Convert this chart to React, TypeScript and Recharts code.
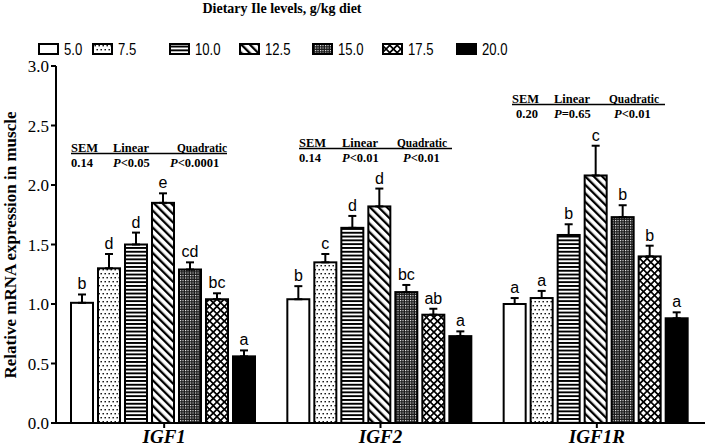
import React from 'react'
import { Bar, BarChart, ErrorBar, XAxis, YAxis } from 'recharts'

const genes = ['IGF1', 'IGF2', 'IGF1R']
const levels = ['5.0', '7.5', '10.0', '12.5', '15.0', '17.5', '20.0']

const igf1Means = [1.01, 1.3, 1.5, 1.85, 1.29, 1.04, 0.56]
const igf1Sem = [0.07, 0.12, 0.1, 0.08, 0.06, 0.05, 0.05]
const igf1Letters = ['b', 'd', 'd', 'e', 'cd', 'bc', 'a']

const igf2Means = [1.04, 1.35, 1.64, 1.82, 1.1, 0.91, 0.73]
const igf2Sem = [0.11, 0.07, 0.1, 0.15, 0.06, 0.05, 0.04]
const igf2Letters = ['b', 'c', 'd', 'd', 'bc', 'ab', 'a']

const igf1rMeans = [1.0, 1.05, 1.58, 2.08, 1.73, 1.4, 0.88]
const igf1rSem = [0.05, 0.06, 0.09, 0.25, 0.1, 0.09, 0.05]
const igf1rLetters = ['a', 'a', 'b', 'c', 'b', 'b', 'a']

const semValues = ['0.14', '0.14', '0.20']
const linearP = ['<0.05', '<0.01', '=0.65']
const quadraticP = ['<0.0001', '<0.01', '<0.01']

const yTicks = [0, 0.5, 1, 1.5, 2, 2.5, 3]

const meansByGene = [igf1Means, igf2Means, igf1rMeans]
const semByGene = [igf1Sem, igf2Sem, igf1rSem]
const lettersByGene = [igf1Letters, igf2Letters, igf1rLetters]

const rows = genes.map((gene, g) => {
  const row: Record<string, any> = { gene }
  levels.forEach((_, i) => {
    row[`v${i}`] = meansByGene[g][i]
    row[`e${i}`] = [0, semByGene[g][i]]
    row[`l${i}`] = lettersByGene[g][i]
  })
  return row
})

const serif = "'Liberation Serif', 'Times New Roman', serif"
const sans = "'Liberation Sans', Arial, sans-serif"

const fills = ['#fff', 'url(#pDots)', 'url(#pHoriz)', 'url(#pDiag)', 'url(#pDense)', 'url(#pCross)', '#000']

// layout of the overlay bits (legend + SEM boxes)
const legendX = [39, 93, 170, 240, 313, 383, 457]
const semLayout = [
  { head: [71, 113, 177], row: [71, 113, 170], y: 152, x2: 227 },
  { head: [299, 342, 397], row: [299, 342, 403], y: 147, x2: 452 },
  { head: [512, 554, 609], row: [516, 554, 614], y: 103, x2: 665 },
]

const makeShape = (i: number) => (props: any) => {
  const { x, y, width, height, payload } = props
  const v = payload[`v${i}`]
  const pxPerUnit = v ? height / v : 0
  const top = y - payload[`e${i}`][1] * pxPerUnit
  return (
    <g>
      <rect x={x} y={y} width={width} height={height} fill={fills[i]} stroke="#000" strokeWidth={2} />
      <text x={x + width / 2} y={top - 5} textAnchor="middle" fontSize={16} fontFamily={sans} fill="#000">
        {payload[`l${i}`]}
      </text>
    </g>
  )
}

const Patterns = () => (
  <defs>
    <pattern id="pDots" patternUnits="userSpaceOnUse" width={4} height={8}>
      <rect width={4} height={8} fill="#fff" />
      <rect x={0.5} y={1} width={1.4} height={1.4} fill="#000" />
      <rect x={2.5} y={5} width={1.4} height={1.4} fill="#000" />
    </pattern>
    <pattern id="pHoriz" patternUnits="userSpaceOnUse" width={4} height={3.8}>
      <rect width={4} height={3.8} fill="#fff" />
      <rect y={0} width={4} height={1.9} fill="#000" />
    </pattern>
    <pattern id="pDiag" patternUnits="userSpaceOnUse" width={6} height={6} patternTransform="rotate(-45)">
      <rect width={6} height={6} fill="#fff" />
      <rect width={2.3} height={6} fill="#000" />
    </pattern>
    <pattern id="pDense" patternUnits="userSpaceOnUse" width={2.5} height={2.5}>
      <rect width={2.5} height={2.5} fill="#1a1a1a" />
      <rect width={1.1} height={1.1} fill="#fff" />
    </pattern>
    <pattern id="pCross" patternUnits="userSpaceOnUse" width={5.2} height={5.2} patternTransform="rotate(45)">
      <rect width={5.2} height={5.2} fill="#fff" />
      <rect width={5.2} height={1.7} fill="#000" />
      <rect width={1.7} height={5.2} fill="#000" />
    </pattern>
  </defs>
)

const Overlay = () => (
  <svg width={706} height={447} style={{ position: 'absolute', left: 0, top: 0, pointerEvents: 'none' }}>
    <Patterns />
    <text x={282} y={13} textAnchor="middle" fontFamily={serif} fontWeight="bold" fontSize={14} fill="#000">
      Dietary Ile levels, g/kg diet
    </text>
    {levels.map((lv, i) => (
      <g key={lv}>
        <rect x={legendX[i]} y={44} width={19} height={10} fill={fills[i]} stroke="#000" strokeWidth={2} />
        <text
          x={0}
          y={0}
          transform={`translate(${legendX[i] + 25},55) scale(0.82,1)`}
          fontFamily={sans}
          fontSize={16}
          fill="#000"
        >
          {lv}
        </text>
      </g>
    ))}
    <text
      transform="translate(16,245) rotate(-90)"
      textAnchor="middle"
      fontFamily={serif}
      fontWeight="bold"
      fontSize={17}
      fill="#000"
    >
      Relative mRNA expression in muscle
    </text>
    {semLayout.map((s, g) => (
      <g key={g} fontFamily={serif} fontWeight="bold" fontSize={12.5} fill="#000">
        <text x={s.head[0]} y={s.y}>SEM</text>
        <text x={s.head[1]} y={s.y}>Linear</text>
        <text x={s.head[2]} y={s.y} textLength={50} lengthAdjust="spacingAndGlyphs">Quadratic</text>
        <line x1={s.head[0]} x2={s.x2} y1={s.y + 1.5} y2={s.y + 1.5} stroke="#000" strokeWidth={1.3} />
        <text x={s.row[0]} y={s.y + 15}>{semValues[g]}</text>
        <text x={s.row[1]} y={s.y + 15}>
          <tspan fontStyle="italic">P</tspan>
          {linearP[g]}
        </text>
        <text x={s.row[2]} y={s.y + 15}>
          <tspan fontStyle="italic">P</tspan>
          {quadraticP[g]}
        </text>
      </g>
    ))}
  </svg>
)

export default function App() {
  return (
    <div style={{ position: 'absolute', left: 0, top: 0, width: 706, height: 447, background: '#fff' }}>
      <BarChart
        width={706}
        height={447}
        data={rows}
        margin={{ top: 66, right: 1, left: 0, bottom: 0 }}
        barCategoryGap={15}
        barGap={5}
      >
        <XAxis
          dataKey="gene"
          height={24}
          axisLine={{ stroke: '#000', strokeWidth: 2 }}
          tickLine={{ stroke: '#000', strokeWidth: 2 }}
          tickSize={5}
          tick={{ fill: '#000', fontSize: 19, fontFamily: serif, fontStyle: 'italic', fontWeight: 'bold' }}
          interval={0}
        />
        <YAxis
          width={56}
          domain={[0, 3]}
          ticks={yTicks}
          allowDataOverflow
          axisLine={{ stroke: '#000', strokeWidth: 2 }}
          tickLine={{ stroke: '#000', strokeWidth: 2 }}
          tickSize={5}
          tick={{ fill: '#000', fontSize: 17, fontFamily: serif }}
          tickFormatter={(v: number) => v.toFixed(1)}
        />
        {levels.map((lv, i) => (
          <Bar key={lv} dataKey={`v${i}`} name={lv} isAnimationActive={false} shape={makeShape(i)}>
            <ErrorBar dataKey={`e${i}`} width={4} stroke="#000" strokeWidth={2} direction="y" />
          </Bar>
        ))}
      </BarChart>
      <Overlay />
    </div>
  )
}
